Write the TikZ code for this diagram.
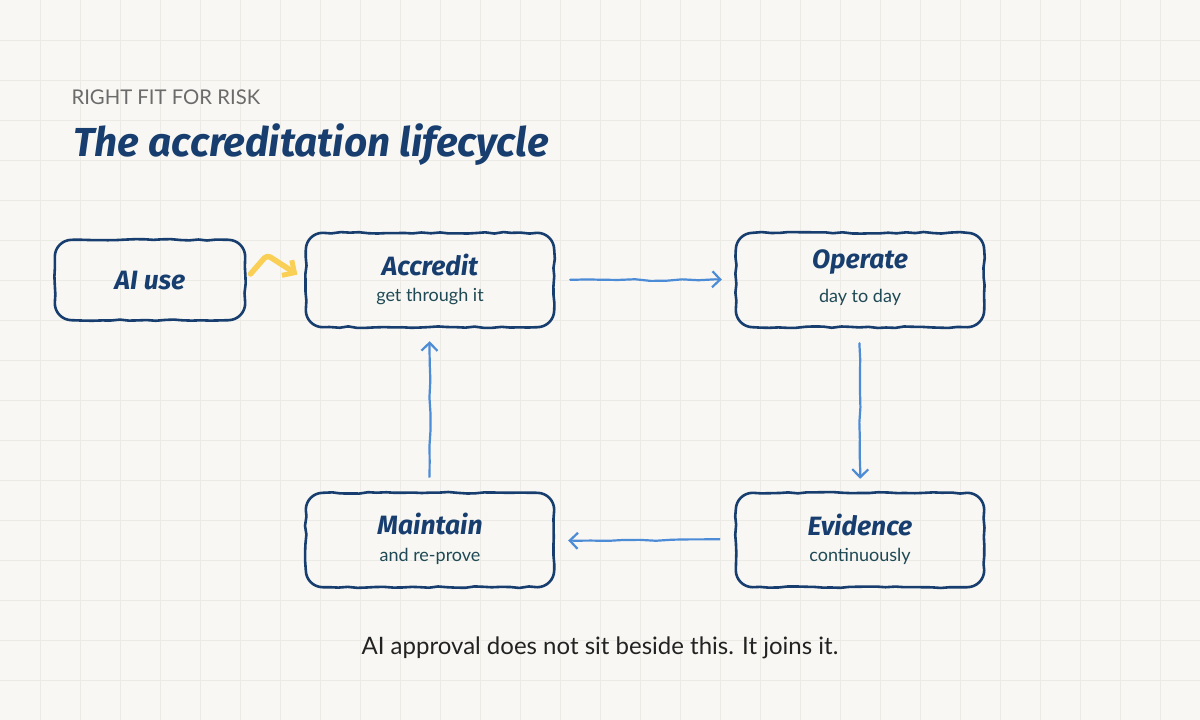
\documentclass[tikz,border=0pt]{standalone}
\usepackage{fontspec}
\setmainfont{Lato}
\newfontfamily\hand{Fira Sans}
\usetikzlibrary{arrows.meta,decorations.pathmorphing}
\definecolor{bg}{HTML}{F8F7F3}
\definecolor{gridc}{HTML}{ECEAE4}
\definecolor{navy}{HTML}{173E6E}
\definecolor{subc}{HTML}{1F4A55}
\definecolor{arrowc}{HTML}{4C8BD6}
\definecolor{yel}{HTML}{F9CF55}
\definecolor{kick}{HTML}{6B6B6B}
\definecolor{foot}{HTML}{222222}
\tikzset{
  stage/.style={minimum width=248pt, minimum height=94pt, inner sep=0pt, align=center},
  boxline/.style={draw=navy, line width=2.6pt, line join=round, line cap=round,
    decoration={random steps, segment length=9pt, amplitude=0.8pt}},
  ttl/.style={font=\hand\bfseries\itshape\fontsize{26.5}{30}\selectfont, text=navy},
  sub/.style={font=\fontsize{18}{21}\selectfont, text=subc},
  flow/.style={draw=arrowc, line width=2.2pt, line cap=round,
    decorate, decoration={random steps, segment length=16pt, amplitude=0.9pt},
    -{Straight Barb[length=8pt,width=16pt,line width=2.2pt]}},
}
\newcommand\wobblebox[2][17pt]{%
  \draw[boxline] ([xshift=#1]#2.north west)
    decorate{-- ([xshift=-#1]#2.north east)}
    to[out=0,in=90] ([yshift=-#1]#2.north east)
    decorate{-- ([yshift=#1]#2.south east)}
    to[out=-90,in=0] ([xshift=-#1]#2.south east)
    decorate{-- ([xshift=#1]#2.south west)}
    to[out=180,in=-90] ([yshift=#1]#2.south west)
    decorate{-- ([yshift=-#1]#2.north west)}
    to[out=90,in=180] ([xshift=#1]#2.north west);}
\begin{document}
\pgfmathsetseed{11}
\begin{tikzpicture}[x=1pt,y=-1pt]
\useasboundingbox (0,0) rectangle (1200,720);
\fill[bg] (0,0) rectangle (1200,720);
\foreach \i in {40,80,...,1160} \draw[gridc, line width=0.8pt] (\i,0) -- (\i,720);
\foreach \j in {40,80,...,680} \draw[gridc, line width=0.8pt] (0,\j) -- (1200,\j);

\node[anchor=west, text=kick, font=\fontsize{20.3}{24}\selectfont] (kicker) at (68,97) {RIGHT FIT FOR RISK};
\node[anchor=base west, text=navy, font=\hand\bfseries\itshape\fontsize{40.5}{44}\selectfont] (title) at (70,156) {The accreditation lifecycle};

\node[stage, minimum width=190pt, minimum height=80pt] (ai) at (150,280) {};
\node[ttl] (ailbl) at (150,281) {AI use};

\node[stage] (acc) at (430,280) {};
\node[ttl] (acct) at (430,265) {Accredit};
\node[sub] (accs) at (430,297) {get through it};

\node[stage] (op) at (860,280) {};
\node[ttl] (opt) at (860,262) {Operate};
\node[sub] (ops) at (860,297) {day to day};

\node[stage] (ev) at (860,540) {};
\node[ttl] (evt) at (860,525) {Evidence};
\node[sub] (evs) at (860,556) {continuously};

\node[stage] (mt) at (430,540) {};
\node[ttl] (mtt) at (430,524) {Maintain};
\node[sub] (mts) at (430,556) {and re-prove};

\wobblebox{ai}
\wobblebox{acc}
\wobblebox{op}
\wobblebox{ev}
\wobblebox{mt}

\draw[flow, shorten <=16pt, shorten >=14pt] (acc.east) -- (op.west);
\draw[flow, shorten <=16pt, shorten >=14pt] (op.south) -- (ev.north);
\draw[flow, shorten <=16pt, shorten >=14pt] (ev.west) -- (mt.east);
\draw[flow, shorten <=16pt, shorten >=14pt] (mt.north) -- (acc.south);

\coordinate (kink) at (267,255);
\draw[yel, line width=5.5pt, line cap=round, line join=round, rounded corners=4pt,
  -{Straight Barb[length=9pt,width=18pt,line width=5pt]},
  shorten <=8pt, shorten >=10pt]
  (ai.east) -- (kink) -- (acc.west);

\node[text=foot, font=\fontsize{24}{28}\selectfont] (footer) at (600,648) {AI approval does not sit beside this. It joins it.};
\end{tikzpicture}
\end{document}
